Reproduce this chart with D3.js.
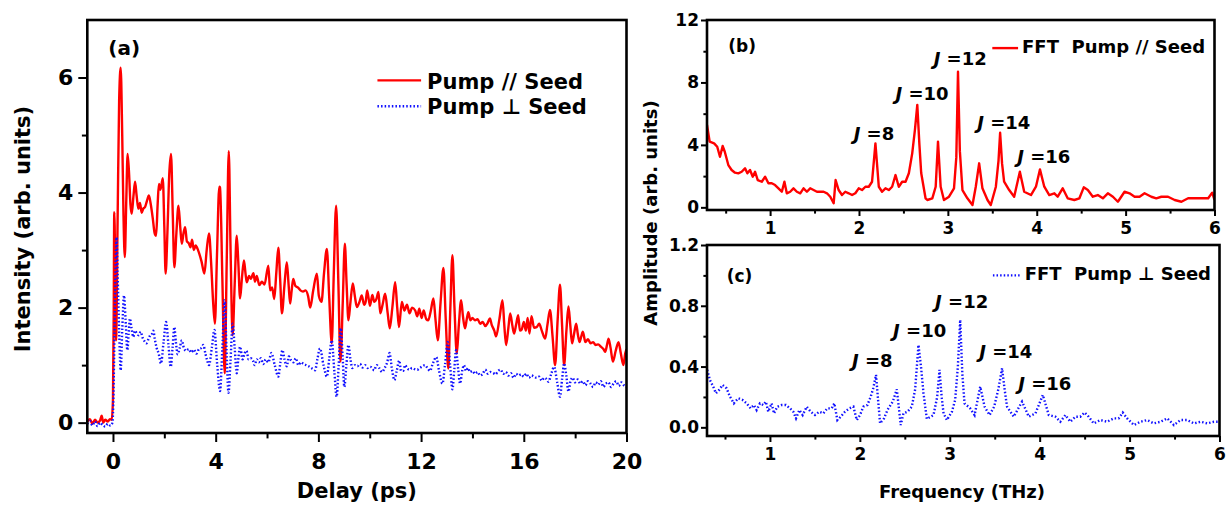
<!DOCTYPE html>
<html>
<head>
<meta charset="utf-8">
<script src="https://cdn.jsdelivr.net/npm/d3@7"></script>
<style>
  body { margin: 0; background: #fff; }
  text { font-family: "DejaVu Sans", "Liberation Sans", sans-serif; font-weight: bold; fill: #000; }
</style>
</head>
<body>
<svg id="fig" width="1229" height="507"></svg>
<script>
// ---- (a) transient intensity vs. delay: [delay ps, intensity] ----
const pumpParallel = [
  [-1.0,0.02],[-0.9,0.06],[-0.8,-0.02],[-0.7,0.05],[-0.6,0.0],[-0.5,0.04],[-0.44,0.12],[-0.38,0.0],[-0.3,0.05],[-0.2,0.02],[-0.12,0.06],[-0.05,0.05],
  [0.0,0.4],[0.03,2.0],[0.05,3.66],[0.09,2.6],[0.12,1.43],[0.18,3.5],[0.24,5.6],[0.30,6.17],[0.36,5.0],[0.41,3.6],[0.46,2.88],[0.52,3.9],[0.57,4.67],
  [0.63,4.3],[0.68,3.8],[0.73,3.63],[0.80,3.95],[0.86,4.19],[0.92,3.95],[0.99,3.72],[1.05,3.82],[1.12,3.65],[1.18,3.72],[1.25,3.75],[1.32,3.85],
  [1.40,3.95],[1.47,3.8],[1.55,3.55],[1.62,3.3],[1.68,3.25],[1.74,3.8],[1.79,4.15],[1.85,4.05],[1.94,4.25],[2.0,3.4],[2.05,2.59],[2.12,3.3],
  [2.19,4.3],[2.26,4.67],[2.33,3.6],[2.39,2.70],[2.47,3.3],[2.55,3.77],[2.62,3.4],[2.68,3.11],[2.75,3.3],[2.81,3.40],[2.88,3.15],[2.95,3.12],
  [3.02,3.05],[3.08,3.18],[3.15,3.0],[3.22,3.08],[3.32,2.99],[3.45,2.8],[3.56,2.59],[3.65,3.0],[3.74,3.29],[3.82,2.8],[3.90,2.1],[3.97,1.72],
  [4.05,2.9],[4.14,4.10],[4.17,4.09],[4.26,2.5],[4.35,0.86],[4.43,2.8],[4.51,4.72],[4.58,3.0],[4.66,1.52],[4.74,2.4],[4.82,3.25],[4.88,2.8],
  [4.95,2.16],[5.02,2.5],[5.10,2.82],[5.16,2.6],[5.21,2.44],[5.3,2.55],[5.37,2.5],[5.47,2.6],[5.53,2.45],[5.6,2.55],[5.70,2.39],[5.8,2.45],
  [5.9,2.4],[6.05,2.73],[6.12,2.30],[6.2,2.35],[6.28,2.15],[6.36,2.6],[6.44,3.04],[6.51,2.5],[6.58,1.90],[6.68,2.4],[6.77,2.79],[6.84,2.4],
  [6.90,2.07],[6.96,2.3],[7.02,2.50],[7.1,2.38],[7.2,2.35],[7.3,2.3],[7.4,2.28],[7.5,2.3],[7.6,2.2],[7.68,2.0],[7.8,2.3],[7.94,2.59],[8.02,2.2],
  [8.12,2.1],[8.22,2.6],[8.33,3.02],[8.42,2.2],[8.52,1.38],[8.6,2.6],[8.69,3.77],[8.78,2.4],[8.86,1.06],[8.95,2.1],[9.03,3.11],[9.1,2.4],
  [9.17,1.78],[9.25,2.1],[9.34,2.42],[9.42,2.2],[9.50,2.01],[9.6,2.1],[9.69,2.21],[9.78,2.05],[9.84,2.1],[9.90,2.30],[10.01,2.03],[10.1,2.22],
  [10.18,2.1],[10.26,2.15],[10.34,2.27],[10.41,1.90],[10.5,2.05],[10.60,2.24],[10.7,1.9],[10.78,1.64],[10.88,2.0],[10.99,2.44],[11.07,2.0],
  [11.14,1.66],[11.25,2.1],[11.35,1.95],[11.45,2.05],[11.55,1.9],[11.65,2.0],[11.77,1.95],[11.85,1.85],[11.93,1.98],[12.02,1.82],[12.1,1.95],
  [12.2,1.8],[12.28,1.78],[12.38,1.95],[12.48,2.16],[12.56,1.8],[12.65,1.43],[12.76,2.1],[12.87,2.69],[12.96,1.8],[13.06,0.94],[13.14,2.0],
  [13.22,2.91],[13.3,2.0],[13.39,1.20],[13.47,1.7],[13.56,2.13],[13.63,1.85],[13.71,1.64],[13.78,1.8],[13.84,1.92],[13.92,1.78],[14.0,1.82],
  [14.10,1.78],[14.2,1.8],[14.3,1.72],[14.4,1.75],[14.5,1.68],[14.6,1.74],[14.68,1.81],[14.75,1.7],[14.85,1.6],[14.92,1.50],[15.05,1.8],
  [15.17,2.13],[15.24,1.7],[15.31,1.35],[15.4,1.65],[15.47,1.90],[15.55,1.7],[15.62,1.55],[15.7,1.7],[15.78,1.87],[15.85,1.6],[15.92,1.62],
  [16.0,1.75],[16.08,1.6],[16.15,1.82],[16.22,1.55],[16.3,1.85],[16.4,1.65],[16.5,1.66],[16.6,1.72],[16.7,1.6],[16.83,1.46],[16.92,1.7],
  [17.02,1.96],[17.12,1.5],[17.22,1.0],[17.32,1.8],[17.41,2.40],[17.49,1.7],[17.57,1.0],[17.66,1.6],[17.74,2.02],[17.81,1.7],[17.88,1.38],
  [17.96,1.55],[18.04,1.72],[18.1,1.55],[18.17,1.40],[18.24,1.5],[18.30,1.58],[18.4,1.4],[18.5,1.45],[18.6,1.38],[18.7,1.4],[18.8,1.35],
  [18.9,1.36],[19.0,1.32],[19.1,1.28],[19.17,1.23],[19.24,1.35],[19.30,1.46],[19.38,1.3],[19.47,1.06],[19.58,1.25],[19.69,1.40],[19.78,1.2],
  [19.88,1.0],[19.95,1.2],[20.0,1.28]
];
const pumpPerp = [
  [-1.0,-0.02],[-0.9,0.03],[-0.8,-0.05],[-0.7,0.02],[-0.6,-0.06],[-0.5,0.0],[-0.4,-0.04],[-0.3,-0.07],[-0.2,-0.02],[-0.1,-0.05],[-0.02,0.0],
  [0.02,0.5],[0.06,1.6],[0.10,2.7],[0.14,3.22],[0.18,2.6],[0.24,1.6],[0.30,0.91],[0.36,1.6],[0.43,2.21],[0.49,1.8],[0.56,1.26],[0.61,1.55],
  [0.66,1.81],[0.72,1.65],[0.79,1.49],[0.86,1.6],[0.92,1.56],[1.0,1.52],[1.08,1.58],[1.15,1.48],[1.22,1.42],[1.3,1.38],[1.38,1.45],[1.45,1.52],
  [1.52,1.55],[1.57,1.60],[1.63,1.45],[1.70,1.30],[1.78,1.2],[1.87,1.03],[1.97,1.4],[2.07,1.75],[2.16,1.35],[2.25,0.97],[2.32,1.3],[2.39,1.66],
  [2.45,1.4],[2.52,1.19],[2.60,1.3],[2.68,1.43],[2.76,1.3],[2.85,1.25],[2.95,1.28],[3.05,1.22],[3.15,1.27],[3.25,1.20],[3.35,1.28],[3.45,1.3],
  [3.52,1.35],[3.6,1.2],[3.67,1.08],[3.74,1.0],[3.85,1.3],[3.95,1.61],[4.06,1.0],[4.17,0.55],[4.26,1.3],[4.35,2.13],[4.42,1.3],[4.50,0.52],
  [4.58,1.1],[4.66,1.72],[4.74,1.3],[4.82,0.86],[4.88,1.1],[4.95,1.32],[5.05,1.1],[5.12,1.2],[5.2,1.25],[5.28,1.1],[5.36,1.12],[5.45,1.08],
  [5.52,1.0],[5.6,1.1],[5.68,1.05],[5.76,1.12],[5.85,1.02],[5.95,1.1],[6.05,1.05],[6.17,1.21],[6.3,1.0],[6.44,0.80],[6.52,1.05],[6.60,1.26],
  [6.68,1.1],[6.77,0.98],[6.85,1.15],[6.94,1.08],[7.03,1.05],[7.12,1.12],[7.22,1.0],[7.32,1.05],[7.42,1.02],[7.52,1.0],[7.62,0.98],[7.72,0.95],
  [7.80,0.93],[7.87,0.91],[7.96,1.1],[8.06,1.29],[8.2,1.0],[8.33,0.80],[8.42,1.1],[8.52,1.43],[8.62,0.9],[8.71,0.45],[8.79,1.0],[8.87,1.64],
  [8.95,1.1],[9.01,0.62],[9.09,1.0],[9.17,1.35],[9.25,1.1],[9.32,0.95],[9.43,1.0],[9.52,0.98],[9.62,1.02],[9.72,0.96],[9.82,1.0],[9.92,0.95],
  [10.02,0.97],[10.1,0.95],[10.17,0.91],[10.27,1.0],[10.37,0.95],[10.48,0.88],[10.58,0.95],[10.68,1.05],[10.77,1.21],[10.86,0.95],[10.96,0.74],
  [11.05,0.9],[11.15,1.08],[11.22,0.9],[11.3,0.9],[11.38,1.0],[11.45,0.95],[11.55,0.92],[11.65,0.95],[11.75,0.93],[11.85,0.92],[11.95,0.95],
  [12.05,0.98],[12.15,1.0],[12.25,0.95],[12.35,0.9],[12.45,1.02],[12.59,1.14],[12.7,0.9],[12.83,0.68],[12.93,1.0],[13.04,1.40],[13.13,1.0],
  [13.22,0.58],[13.29,0.9],[13.36,1.26],[13.44,0.95],[13.52,0.68],[13.6,0.9],[13.67,1.0],[13.75,0.9],[13.83,0.95],[13.9,0.88],[14.0,0.9],
  [14.1,0.85],[14.2,0.88],[14.3,0.82],[14.4,0.85],[14.5,0.92],[14.6,0.85],[14.7,0.88],[14.82,0.86],[14.9,0.84],[15.0,0.9],[15.1,0.92],
  [15.2,0.85],[15.3,0.88],[15.4,0.82],[15.5,0.86],[15.6,0.78],[15.7,0.85],[15.8,0.82],[15.9,0.84],[16.0,0.80],[16.1,0.85],[16.2,0.78],
  [16.3,0.82],[16.4,0.80],[16.5,0.78],[16.6,0.80],[16.7,0.73],[16.8,0.78],[16.9,0.75],[16.96,0.71],[17.07,0.85],[17.18,0.97],[17.3,0.7],
  [17.41,0.45],[17.49,0.75],[17.57,1.03],[17.66,0.8],[17.74,0.54],[17.82,0.72],[17.9,0.78],[18.0,0.7],[18.1,0.75],[18.2,0.68],[18.3,0.72],
  [18.4,0.65],[18.5,0.72],[18.6,0.68],[18.7,0.62],[18.8,0.7],[18.9,0.66],[19.0,0.72],[19.1,0.62],[19.2,0.68],[19.3,0.7],[19.4,0.62],
  [19.5,0.68],[19.6,0.72],[19.7,0.64],[19.8,0.7],[19.9,0.65],[20.0,0.62]
];

// ---- (b) FFT of the parallel trace: [frequency THz, amplitude] ----
const fftParallel = [
  [0.29,5.28],[0.32,4.21],[0.37,4.10],[0.405,3.88],[0.436,3.24],[0.466,3.93],[0.49,3.56],[0.53,2.71],[0.567,2.39],[0.605,2.22],[0.642,2.18],
  [0.68,2.28],[0.718,2.50],[0.744,2.18],[0.774,2.39],[0.805,1.96],[0.831,2.28],[0.861,1.75],[0.906,1.64],[0.944,1.96],[0.981,1.54],[1.019,1.54],
  [1.056,1.43],[1.094,1.22],[1.132,1.0],[1.161,1.64],[1.188,0.90],[1.226,1.0],[1.263,1.22],[1.301,1.0],[1.339,0.90],[1.376,1.22],[1.414,1.0],
  [1.451,1.22],[1.489,1.11],[1.527,1.0],[1.564,1.0],[1.602,1.0],[1.64,0.90],[1.677,0.68],[1.715,0.26],[1.737,1.75],[1.771,1.11],[1.809,0.79],
  [1.846,1.0],[1.884,0.90],[1.922,0.79],[1.959,0.90],[1.997,1.22],[2.034,1.11],[2.072,1.32],[2.11,1.32],[2.147,1.64],[2.185,4.10],[2.223,1.32],
  [2.26,1.0],[2.298,1.22],[2.335,1.11],[2.373,1.32],[2.411,2.07],[2.448,1.32],[2.486,1.64],[2.524,1.64],[2.561,2.18],[2.599,3.46],[2.63,5.0],
  [2.656,6.56],[2.68,4.0],[2.70,2.2],[2.749,0.58],[2.769,0.47],[2.825,0.58],[2.863,1.32],[2.889,4.21],[2.919,1.32],[2.956,0.47],[3.013,0.68],
  [3.069,1.22],[3.095,3.2],[3.114,8.69],[3.135,3.6],[3.164,1.11],[3.22,0.58],[3.277,0.15],[3.314,1.32],[3.352,2.82],[3.389,1.22],[3.446,0.47],
  [3.483,0.15],[3.54,1.32],[3.57,3.0],[3.588,4.78],[3.61,2.8],[3.633,1.64],[3.69,1.11],[3.746,0.68],[3.81,2.28],[3.859,1.0],[3.935,0.79],
  [3.991,1.32],[4.036,2.43],[4.085,1.32],[4.141,0.79],[4.198,0.90],[4.236,0.68],[4.292,1.22],[4.348,0.58],[4.423,0.47],[4.48,0.58],[4.529,1.28],
  [4.575,1.11],[4.631,0.68],[4.687,0.79],[4.744,0.58],[4.80,0.90],[4.857,0.68],[4.913,0.36],[4.988,1.0],[5.044,0.90],[5.101,0.68],[5.157,0.68],
  [5.213,0.90],[5.289,0.68],[5.345,0.58],[5.402,0.68],[5.477,0.68],[5.552,0.47],[5.628,0.36],[5.703,0.58],[5.778,0.58],[5.853,0.58],[5.929,0.58],
  [5.974,0.94],[6.0,0.47]
];

// ---- (c) FFT of the perpendicular trace: [frequency THz, amplitude] ----
const fftPerp = [
  [0.302,0.378],[0.332,0.312],[0.369,0.268],[0.399,0.224],[0.435,0.246],[0.473,0.279],[0.518,0.257],[0.555,0.202],[0.599,0.158],[0.647,0.191],
  [0.696,0.180],[0.741,0.158],[0.785,0.125],[0.822,0.147],[0.852,0.114],[0.889,0.158],[0.926,0.147],[0.955,0.169],[0.981,0.103],[1.019,0.158],
  [1.045,0.092],[1.082,0.136],[1.13,0.147],[1.178,0.147],[1.223,0.125],[1.26,0.103],[1.29,0.059],[1.327,0.114],[1.364,0.081],[1.409,0.136],
  [1.453,0.103],[1.501,0.081],[1.549,0.103],[1.594,0.092],[1.638,0.125],[1.687,0.125],[1.716,0.158],[1.75,0.048],[1.787,0.070],[1.835,0.103],
  [1.884,0.125],[1.928,0.136],[1.966,0.048],[2.002,0.081],[2.039,0.136],[2.084,0.147],[2.121,0.202],[2.15,0.26],[2.18,0.345],[2.20,0.2],
  [2.225,0.026],[2.269,0.059],[2.307,0.114],[2.366,0.169],[2.411,0.250],[2.455,0.015],[2.485,0.092],[2.53,0.103],[2.578,0.136],[2.615,0.25],
  [2.652,0.542],[2.68,0.4],[2.708,0.224],[2.745,0.055],[2.819,0.081],[2.86,0.2],[2.886,0.378],[2.91,0.2],[2.931,0.092],[2.968,0.048],
  [3.024,0.103],[3.06,0.180],[3.09,0.4],[3.116,0.707],[3.14,0.35],[3.164,0.158],[3.227,0.125],[3.276,0.081],[3.339,0.268],[3.387,0.136],
  [3.443,0.081],[3.494,0.136],[3.54,0.25],[3.582,0.389],[3.61,0.25],[3.637,0.136],[3.711,0.070],[3.804,0.169],[3.879,0.070],[3.953,0.092],
  [4.035,0.213],[4.101,0.081],[4.174,0.070],[4.23,0.037],[4.286,0.081],[4.341,0.037],[4.397,0.070],[4.452,0.070],[4.5,0.097],[4.545,0.070],
  [4.601,0.026],[4.675,0.048],[4.75,0.037],[4.823,0.059],[4.879,0.059],[4.924,0.097],[4.973,0.059],[5.047,0.015],[5.122,0.037],[5.196,0.048],
  [5.269,0.026],[5.344,0.037],[5.419,0.059],[5.493,0.015],[5.566,0.048],[5.641,0.048],[5.715,0.026],[5.79,0.037],[5.864,0.026],[5.938,0.037],
  [5.993,0.037]
];

// tick values
const delayTicks = [0, 4, 8, 12, 16, 20];
const delayMinor = [2, 6, 10, 14, 18];
const intensityTicks = [0, 2, 4, 6];
const intensityMinor = [1, 3, 5];
const freqTicks = [1, 2, 3, 4, 5, 6];
const freqMinor = [0.5, 1.5, 2.5, 3.5, 4.5, 5.5];
const ampTicksB = [0, 4, 8, 12];
const ampMinorB = [2, 6, 10];
const ampTicksC = [0, 0.4, 0.8, 1.2];
const ampMinorC = [0.2, 0.6, 1.0];

// rotational line labels (J value)
const jLabels = ["8", "10", "12", "14", "16"];

const RED = "#ff0000", BLUE = "#1010ff";
const DOTS = "1.5,2.1";
const svg = d3.select("#fig");

function axisStyle(g, fs) {
  g.select(".domain").remove();
  g.selectAll(".tick line").attr("stroke", "#000").attr("stroke-width", 2);
  g.selectAll(".tick text").style("font-size", fs + "px");
}

function panel(id, x, y, cfg) {
  const g = svg.append("g");
  const [x0, x1] = x.range(), [y0, y1] = y.range();
  g.append("clipPath").attr("id", id).append("rect")
    .attr("x", x0).attr("y", y1).attr("width", x1 - x0).attr("height", y0 - y1);
  // major / minor ticks
  const bx = g.append("g").attr("transform", `translate(0,${y0})`)
    .call(d3.axisBottom(x).tickValues(cfg.xt).tickSize(cfg.tick).tickPadding(cfg.xpad).tickSizeOuter(0).tickFormat(cfg.xf || d3.format("d")));
  axisStyle(bx, cfg.fs);
  const bxm = g.append("g").attr("transform", `translate(0,${y0})`)
    .call(d3.axisBottom(x).tickValues(cfg.xm).tickSize(cfg.tick * 0.6).tickFormat("").tickSizeOuter(0));
  axisStyle(bxm, cfg.fs);
  const ly = g.append("g").attr("transform", `translate(${x0},0)`)
    .call(d3.axisLeft(y).tickValues(cfg.yt).tickSize(cfg.tick).tickPadding(cfg.ypad).tickSizeOuter(0).tickFormat(cfg.yf || d3.format("d")));
  axisStyle(ly, cfg.fs);
  const lym = g.append("g").attr("transform", `translate(${x0},0)`)
    .call(d3.axisLeft(y).tickValues(cfg.ym).tickSize(cfg.tick * 0.6).tickFormat("").tickSizeOuter(0));
  axisStyle(lym, cfg.fs);
  return g;
}

function frame(g, x, y) {
  const [x0, x1] = x.range(), [y0, y1] = y.range();
  g.append("rect").attr("x", x0).attr("y", y1).attr("width", x1 - x0).attr("height", y0 - y1)
    .attr("fill", "none").attr("stroke", "#000").attr("stroke-width", 2.6);
}

function trace(g, id, x, y, data, color, dotted, curve) {
  const line = d3.line().x(d => x(d[0])).y(d => y(d[1])).curve(curve || d3.curveLinear);
  const p = g.append("path").datum(data).attr("d", line).attr("fill", "none")
    .attr("stroke", color).attr("clip-path", `url(#${id})`);
  if (dotted) p.attr("stroke-width", 2.4).attr("stroke-dasharray", DOTS);
  else p.attr("stroke-width", 2.4).attr("stroke-linejoin", "round");
  return p;
}

function legendRow(g, xL, xR, yLine, yText, label, color, dotted, fs, gap) {
  const l = g.append("line").attr("x1", xL).attr("x2", xR).attr("y1", yLine).attr("y2", yLine).attr("stroke", color);
  if (dotted) l.attr("stroke-width", 2.4).attr("stroke-dasharray", DOTS);
  else l.attr("stroke-width", 2.4);
  g.append("text").attr("x", xR + gap).attr("y", yText).style("font-size", fs + "px").text(label);
}

function jLabel(g, px, py, val, fs) {
  const t = g.append("text").attr("x", px).attr("y", py).style("font-size", fs + "px");
  t.append("tspan").style("font-style", "italic").text("J");
  t.append("tspan").text("\u00a0=" + val);
}

// ================= panel (a) =================
const xA = d3.scaleLinear().domain([-1, 20]).range([87.3, 626.5]);
const yA = d3.scaleLinear().domain([-0.18, 7]).range([433, 20]);
const gA = panel("clipA", xA, yA, { xt: delayTicks, xm: delayMinor, yt: intensityTicks, ym: intensityMinor, tick: 9, xpad: 11, ypad: 5, fs: 22 });
trace(gA, "clipA", xA, yA, pumpParallel, RED, false, d3.curveMonotoneX);
trace(gA, "clipA", xA, yA, pumpPerp, BLUE, true, d3.curveMonotoneX);
frame(gA, xA, yA);
gA.append("text").attr("x", xA(-0.18)).attr("y", yA(6.4)).style("font-size", "20px").text("(a)");
legendRow(gA, xA(10.3), xA(12.0), yA(5.95), yA(5.8), "Pump // Seed", RED, false, 21, 6);
legendRow(gA, xA(10.3), xA(12.0), yA(5.5), yA(5.36), "Pump \u22A5 Seed", BLUE, true, 21, 6);
svg.append("text").attr("x", (xA.range()[0] + xA.range()[1]) / 2).attr("y", 498)
  .attr("text-anchor", "middle").style("font-size", "21px").text("Delay (ps)");
svg.append("text").attr("transform", "translate(30,229) rotate(-90)")
  .attr("text-anchor", "middle").style("font-size", "21px").text("Intensity (arb. units)");

// ================= panel (b) =================
const xB = d3.scaleLinear().domain([0.29, 6]).range([707, 1214.5]);
const yB = d3.scaleLinear().domain([-0.17, 12]).range([210, 20]);
const gB = panel("clipB", xB, yB, { xt: freqTicks, xm: freqMinor, yt: ampTicksB, ym: ampMinorB, tick: 6, xpad: 6, ypad: 2, fs: 17 });
trace(gB, "clipB", xB, yB, fftParallel, RED, false);
frame(gB, xB, yB);
gB.append("text").attr("x", xB(0.53)).attr("y", yB(9.95)).style("font-size", "17px").text("(b)");
legendRow(gB, xB(3.50), xB(3.79), yB(10.2), yB(9.9), "FFT\u00a0\u00a0Pump // Seed", RED, false, 18, 4);
const jPosB = [[1.94, 4.3], [2.41, 6.9], [2.84, 9.1], [3.33, 5.05], [3.78, 2.85]];
jLabels.forEach((v, i) => jLabel(gB, xB(jPosB[i][0]), yB(jPosB[i][1]), v, 18));

// ================= panel (c) =================
const xC = d3.scaleLinear().domain([0.3, 6]).range([707, 1219.5]);
const yC = d3.scaleLinear().domain([-0.057, 1.2]).range([436, 245]);
const gC = panel("clipC", xC, yC, { xt: freqTicks, xm: freqMinor, yt: ampTicksC, ym: ampMinorC, tick: 6, xpad: 6, ypad: 2, fs: 17, yf: d3.format(".1f") });
trace(gC, "clipC", xC, yC, fftPerp, BLUE, true);
frame(gC, xC, yC);
gC.append("text").attr("x", xC(0.52)).attr("y", yC(0.955)).style("font-size", "17px").text("(c)");
legendRow(gC, xC(3.48), xC(3.80), yC(1.0), yC(0.97), "FFT\u00a0\u00a0Pump \u22A5 Seed", BLUE, true, 18, 3);
const jPosC = [[1.913, 0.40], [2.37, 0.597], [2.837, 0.786], [3.327, 0.457], [3.762, 0.246]];
jLabels.forEach((v, i) => jLabel(gC, xC(jPosC[i][0]), yC(jPosC[i][1]), v, 18));

svg.append("text").attr("x", 962).attr("y", 498).attr("text-anchor", "middle")
  .style("font-size", "18px").text("Frequency (THz)");
svg.append("text").attr("transform", "translate(657,213) rotate(-90)")
  .attr("text-anchor", "middle").style("font-size", "18px").text("Amplitude (arb. units)");
</script>
</body>
</html>
